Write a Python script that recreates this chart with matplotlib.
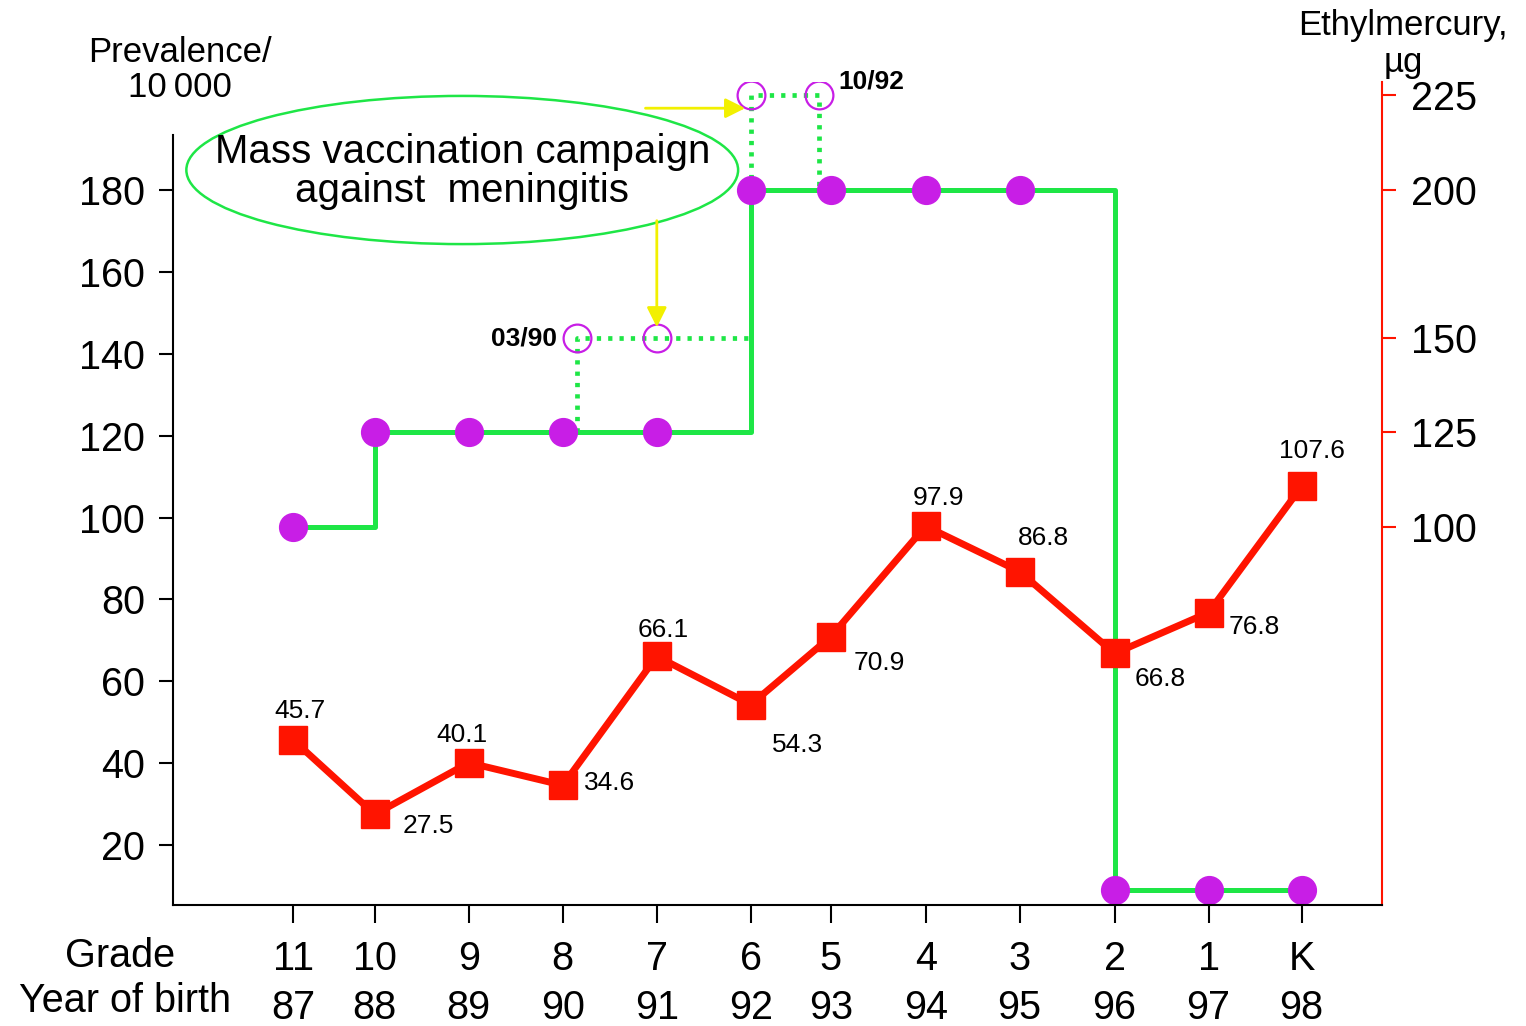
import numpy as np
import matplotlib.pyplot as plt
from matplotlib.patches import Ellipse
from matplotlib.transforms import blended_transform_factory

plt.rcParams['font.family'] = ['Liberation Sans', 'DejaVu Sans']

grades = ["11", "10", "9", "8", "7", "6", "5", "4", "3", "2", "1", "K"]
birth_years = ["87", "88", "89", "90", "91", "92", "93", "94", "95", "96", "97", "98"]
# position of each cohort along the time axis (years from the grade 11 cohort)
x_pos = [0, 0.87, 1.87, 2.87, 3.87, 4.87, 5.72, 6.73, 7.73, 8.74, 9.74, 10.73]

prevalence = [45.7, 27.5, 40.1, 34.6, 66.1, 54.3, 70.9, 97.9, 86.8, 66.8, 76.8, 107.6]
ethylmercury = [100, 125, 125, 125, 125, 200, 200, 200, 200, 0, 0, 0]

# meningitis campaigns (03/90 and 10/92): extra ethylmercury
camp90_x = [3.02, 3.02, 4.87]
camp90_y = [125, 150, 150]
camp92_x = [4.87, 4.87, 5.60, 5.60]
camp92_y = [200, 225, 225, 200]
camp_circ_x = [3.02, 3.87, 4.87, 5.60]
camp_circ_y = [150, 150, 225, 225]

left_ticks = [20, 40, 60, 80, 100, 120, 140, 160, 180]
right_ticks = [100, 125, 150, 200, 225]

# the right axis in the original is not linear: knots µg -> prevalence units
mg_knots = [-10, 0, 100, 125, 150, 200, 225, 260]
prev_knots = [0.13, 9.0, 97.7, 120.9, 143.85, 180.0, 203.2, 235.7]

GREEN = '#1ee646'
PURPLE = '#c81ee6'
RED = '#ff1400'
YELLOW = '#f2f000'

fig = plt.figure(figsize=(15.26, 10.26), dpi=100)
ax = fig.add_axes([173/1526, 1-905/1026, (1382-173)/1526, (905-82)/1026])
ax2 = ax.twinx()
ax.set_zorder(2)
ax2.set_zorder(1)
ax.patch.set_visible(False)

y_lo, y_hi = 5.35, 206.4
ax.set_xlim(-1.277, 11.585)
ax.set_ylim(y_lo, y_hi)

# ethylmercury step line
def fwd(v):
    return np.interp(v, mg_knots, prev_knots)

def inv(v):
    return np.interp(v, prev_knots, mg_knots)

ax2.set_yscale('function', functions=(fwd, inv))
ax2.set_ylim(inv(y_lo), inv(y_hi))
ax2.plot(x_pos, ethylmercury, drawstyle='steps-post', color=GREEN, lw=3.6, zorder=2)
ax2.plot(x_pos, ethylmercury, 'o', color=PURPLE, ms=20, zorder=4)
ax2.plot(camp90_x, camp90_y, color=GREEN, lw=3.4, ls=(0, (0.9, 1.5)), zorder=2)
ax2.plot(camp92_x, camp92_y, color=GREEN, lw=3.4, ls=(0, (0.9, 1.5)), zorder=2)
ax2.plot(camp_circ_x, camp_circ_y, 'o', mfc='none', mec=PURPLE, mew=1.6, ms=20, zorder=3)
ax2.text(3.02 - 0.21, 150, "03/90", fontsize=19, fontweight='bold', ha='right', va='center')
ax2.text(5.60 + 0.2, 228.5, "10/92", fontsize=19, fontweight='bold', ha='left', va='center')

ax2.set_yticks(right_ticks)
ax2.yaxis.set_minor_locator(plt.NullLocator())
ax2.tick_params(axis='y', colors=RED, labelcolor='black', labelsize=28.5,
                length=10, width=1.5, pad=11)
for s in ['top', 'left', 'bottom']:
    ax2.spines[s].set_visible(False)
ax2.spines['right'].set_color(RED)
ax2.spines['right'].set_linewidth(1.5)

# prevalence line
ax.plot(x_pos, prevalence, color=RED, lw=5, marker='s', ms=20, zorder=5)
offsets = [(7, 29), (53, -12), (-7, 28), (47, 2), (6, 26), (47, -40), (49, -26),
           (13, 28), (24, 34), (46, -26), (46, -14), (10, 35)]
for xv, yv, (dx, dy) in zip(x_pos, prevalence, offsets):
    ax.annotate(f"{yv:.1f}", (xv, yv), xytext=(dx, dy), textcoords='offset pixels',
                ha='center', va='center', fontsize=19, zorder=6)

ax.set_yticks(left_ticks)
ax.tick_params(axis='y', labelsize=28.5, length=10, width=1.5, pad=10)
ax.set_xticks(x_pos, grades)
ax.tick_params(axis='x', labelsize=28.5, length=13, width=1.5, pad=12)
ax.spines['top'].set_visible(False)
ax.spines['right'].set_visible(False)
ax.spines['left'].set_bounds(y_lo, 193.4)
for s in ['left', 'bottom']:
    ax.spines[s].set_linewidth(1.5)

trans = blended_transform_factory(ax.transData, ax.transAxes)
for xv, yr in zip(x_pos, birth_years):
    ax.text(xv, -0.1255, yr, transform=trans, ha='center', va='center', fontsize=28.5)

# campaign annotation
ax.add_patch(Ellipse((1.80, 184.9), 5.87, 36.2, facecolor='none', edgecolor=GREEN,
                     lw=1.8, zorder=3))
ax.text(1.80, 184.5, "Mass vaccination campaign\nagainst  meningitis", ha='center',
        va='center', fontsize=29, linespacing=1.04, zorder=4)
ax.annotate("", xy=(4.84, 200.0), xytext=(3.72, 200.0),
            arrowprops=dict(arrowstyle='-|>', color=YELLOW, lw=2, mutation_scale=30))
ax.annotate("", xy=(3.87, 145.8), xytext=(3.87, 173.2),
            arrowprops=dict(arrowstyle='-|>', color=YELLOW, lw=2, mutation_scale=30))

fig.text(180/1526, 1-70/1026, "Prevalence/\n10\u2009000", ha='center', va='center',
         fontsize=25, linespacing=1.08)
fig.text(1403/1526, 1-44/1026, "Ethylmercury,\nµg", ha='center', va='center',
         fontsize=25, linespacing=1.19)
fig.text(120/1526, 1-956/1026, "Grade", ha='center', va='center', fontsize=28.5)
fig.text(125/1526, 1-1001/1026, "Year of birth", ha='center', va='center', fontsize=28.5)

fig.savefig("out.png", dpi=100)
